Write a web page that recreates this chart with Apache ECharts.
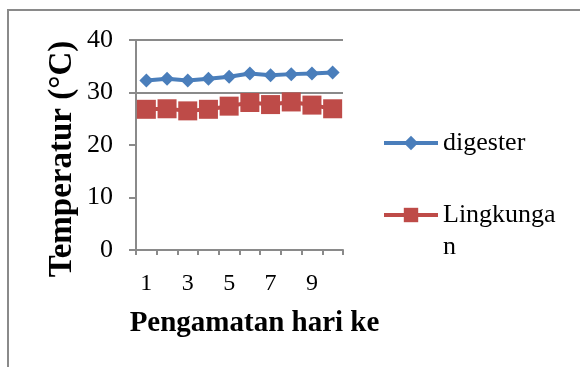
<!DOCTYPE html>
<html>
<head>
<meta charset="utf-8">
<script src="https://cdn.jsdelivr.net/npm/echarts@6/dist/echarts.min.js"></script>
<style>
  html, body { margin: 0; padding: 0; background: #fff; }
  #chart { width: 580px; height: 367px; }
</style>
</head>
<body>
<div id="chart"></div>
<script>
// Observation days and measured temperatures (°C)
const days = ['1', '2', '3', '4', '5', '6', '7', '8', '9', '10'];
const digester = [32.3, 32.6, 32.3, 32.6, 33.0, 33.6, 33.3, 33.5, 33.6, 33.8];
const lingkungan = [26.8, 26.9, 26.5, 26.8, 27.4, 28.1, 27.7, 28.2, 27.6, 26.9];
const yTicks = [0, 10, 20, 30, 40];

const serif = '"Liberation Serif", "Times New Roman", serif';
const axisGray = '#8a8a8a';

const chart = echarts.init(document.getElementById('chart'), null, { renderer: 'canvas' });

chart.setOption({
  animation: false,
  backgroundColor: '#ffffff',
  graphic: [{
    type: 'rect',
    shape: { x: 8, y: 10, width: 600, height: 400 },
    style: { fill: 'none', stroke: axisGray, lineWidth: 2 },
    silent: true
  }],
  grid: { left: 136, right: 237, top: 40, bottom: 117 },
  xAxis: {
    type: 'category',
    data: days,
    boundaryGap: true,
    name: 'Pengamatan hari ke',
    nameLocation: 'middle',
    nameGap: 59,
    // title sits a little right of the plot centre
    nameTextStyle: { fontFamily: serif, fontSize: 29, fontWeight: 'bold', color: '#000', padding: [0, 0, 0, 30] },
    axisLine: { lineStyle: { color: axisGray, width: 2 } },
    axisTick: { show: true, interval: 0, length: 5, lineStyle: { color: axisGray, width: 2 } },
    axisLabel: { interval: 1, margin: 22, fontFamily: serif, fontSize: 24, color: '#000' },
    splitLine: { show: false }
  },
  yAxis: {
    type: 'value',
    min: yTicks[0],
    max: yTicks[yTicks.length - 1],
    interval: 10,
    name: 'Temperatur (°C)',
    nameLocation: 'middle',
    nameGap: 57,
    // title sits a little below the plot centre
    nameTextStyle: { fontFamily: serif, fontSize: 33, fontWeight: 'bold', color: '#000', padding: [0, 28, 0, 0] },
    axisLine: { show: true, lineStyle: { color: axisGray, width: 2 } },
    axisTick: { show: true, length: 7, lineStyle: { color: axisGray, width: 2 } },
    axisLabel: { margin: 23, fontFamily: serif, fontSize: 26, color: '#000' },
    splitLine: {
      show: true,
      lineStyle: { color: ['rgba(0,0,0,0)', 'rgba(0,0,0,0)', 'rgba(0,0,0,0)', axisGray, axisGray], width: 2 }
    }
  },
  legend: [{
    data: ['digester'],
    left: 382,
    top: 130,
    padding: 0,
    itemWidth: 54,
    itemHeight: 18,
    itemGap: 0,
    lineStyle: { width: 4 },
    textStyle: { fontFamily: serif, fontSize: 26, color: '#000' }
  }, {
    data: ['Lingkungan'],
    left: 382,
    top: 167,
    padding: 0,
    itemWidth: 54,
    itemHeight: 18,
    itemGap: 0,
    lineStyle: { width: 4 },
    // the long name wraps onto a second line, first line level with the icon
    formatter: function (name) { return '\n' + name.slice(0, 9) + '\n' + name.slice(9); },
    textStyle: { fontFamily: serif, fontSize: 26, lineHeight: 32, color: '#000' }
  }],
  series: [{
    name: 'digester',
    type: 'line',
    data: digester,
    showAllSymbol: true,
    symbol: 'diamond',
    symbolSize: 14,
    color: '#4a7ebb',
    lineStyle: { width: 4, color: '#4a7ebb' },
    itemStyle: { color: '#4a7ebb' },
    z: 3
  }, {
    name: 'Lingkungan',
    type: 'line',
    data: lingkungan,
    showAllSymbol: true,
    symbol: 'rect',
    symbolSize: 19,
    color: '#be4b48',
    lineStyle: { width: 4, color: '#be4b48' },
    itemStyle: { color: '#be4b48' },
    z: 2
  }]
});
</script>
</body>
</html>
